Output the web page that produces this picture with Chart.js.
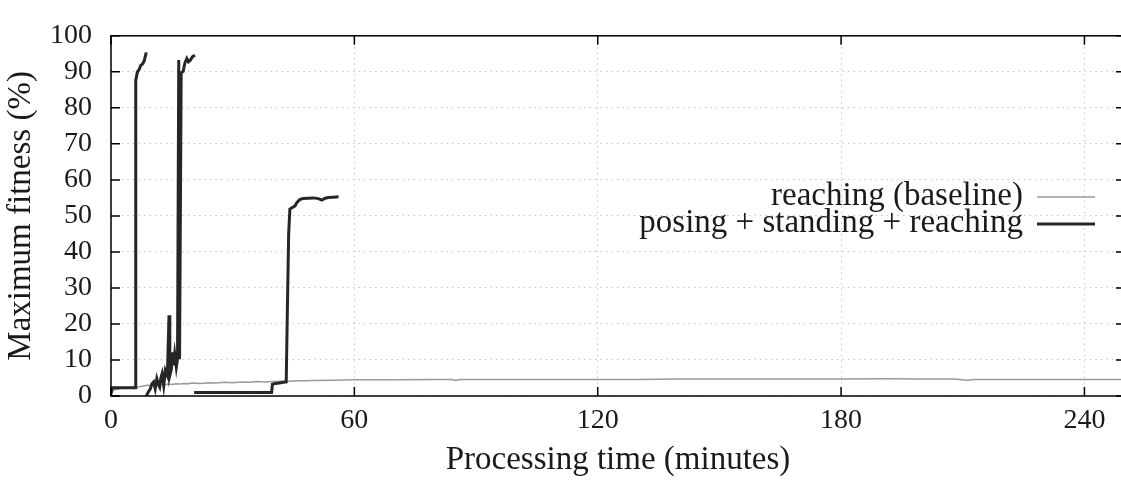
<!DOCTYPE html>
<html>
<head>
<meta charset="utf-8">
<title>Maximum fitness vs processing time</title>
<script src="https://cdn.jsdelivr.net/npm/chart.js@4.4.1/dist/chart.umd.min.js"></script>
<style>
    html, body { margin: 0; padding: 0; background: #fff; overflow: hidden; }
    #wrap { position: relative; width: 1126px; height: 481px; }
</style>
</head>
<body>
<div id="wrap"><canvas id="fitnessChart"></canvas></div>
<script>
// tick values
const xTicks = [0, 60, 120, 180, 240];
const yTicks = [0, 10, 20, 30, 40, 50, 60, 70, 80, 90, 100];

// reaching (baseline) - single long run
const baseMinutes = [0, 0.5, 1, 2, 3, 4, 5, 6, 7, 8, 9, 10, 11, 12, 13, 14, 15, 16, 17, 18, 19, 20,
    22, 24, 26, 28, 30, 32, 34, 36, 38, 40, 42, 44, 46, 48, 50, 55, 60, 70, 80, 84, 85, 86,
    90, 100, 110, 120, 130, 140, 150, 160, 170, 180, 190, 200, 208, 211, 213, 220, 230, 240, 250];
const baseFitness = [0.8, 1.5, 1.8, 2.0, 2.2, 2.3, 2.2, 2.5, 2.6, 2.8, 3.0, 2.9, 3.1, 3.2, 3.0, 3.3, 3.2, 3.4, 3.3, 3.5, 3.4, 3.6,
    3.5, 3.7, 3.6, 3.8, 3.7, 3.9, 3.8, 4.0, 3.9, 4.0, 4.1, 4.1, 4.2, 4.2, 4.3, 4.4, 4.5, 4.5, 4.6, 4.6, 4.3, 4.6,
    4.6, 4.6, 4.6, 4.6, 4.6, 4.7, 4.7, 4.7, 4.7, 4.7, 4.8, 4.7, 4.7, 4.4, 4.6, 4.6, 4.6, 4.6, 4.6];

// posing + standing + reaching - three runs, plotted with breaks between them
const run1Minutes = [0, 0.3, 6.0, 6.1, 6.5, 7.0, 7.3, 7.8, 8.2, 8.7];
const run1Fitness = [0.5, 2.3, 2.3, 87.6, 89.9, 90.8, 91.7, 92.2, 93.1, 95.4];

const run2Minutes = [8.7, 9.2, 9.7, 10.1, 10.5, 10.9, 11.3, 11.7, 12.0, 12.3, 12.6, 13.0, 13.4, 13.9,
    14.3, 14.5, 14.9, 15.1, 15.4, 15.7, 16.1, 16.4, 16.7, 16.9, 17.3, 17.8, 18.2, 18.7, 19.1, 19.6, 20.1, 20.7];
const run2Fitness = [0, 1.1, 2.0, 3.4, 3.9, 2.0, 4.8, 3.2, 2.5, 5.0, 6.2, 2.9, 7.1, 5.7,
    22.4, 5.7, 7.5, 12.1, 8.5, 11.7, 8.0, 10.3, 93.3, 10.2, 89.7, 90.1, 92.4, 93.7, 92.8, 93.3, 94.2, 94.6];

const run3Minutes = [20.5, 39.6, 39.8, 40.5, 41.5, 42.5, 43.2, 43.5, 43.8, 44.1, 44.8, 45.4, 45.8,
    46.6, 47.4, 48.6, 49.9, 51.1, 52.0, 52.8, 53.6, 54.8, 56.1];
const run3Fitness = [1.0, 1.0, 3.3, 3.5, 3.6, 3.8, 3.9, 25.0, 45.0, 51.9, 52.4, 52.8, 53.7,
    54.6, 54.8, 54.9, 55.0, 54.8, 54.4, 54.9, 55.1, 55.2, 55.3];

const SERIF = '"Liberation Serif", "DejaVu Serif", serif';
const TEXT_COLOR = '#1a1a1a';

function toPoints(xs, ys) {
    return xs.map((x, i) => ({ x: x, y: ys[i] }));
}

// join runs with a null point so the line breaks between them
function joinRuns(runs) {
    const out = [];
    runs.forEach((r, i) => {
        if (i > 0) out.push({ x: r[0][0], y: null });
        out.push(...toPoints(r[0], r[1]));
    });
    return out;
}

// gnuplot style: border, inward tics on all four sides, legend inside
const framePlugin = {
    id: 'frame',
    afterDraw(chart) {
        const { ctx, chartArea: a, scales } = chart;
        const x = scales.x, y = scales.y;
        ctx.save();
        ctx.strokeStyle = '#000';
        ctx.lineWidth = 1.5;
        ctx.strokeRect(a.left, a.top, a.right - a.left, a.bottom - a.top);

        ctx.beginPath();
        yTicks.forEach(v => {
            const p = y.getPixelForValue(v);
            ctx.moveTo(a.left, p); ctx.lineTo(a.left + 9, p);
            ctx.moveTo(a.right - 9, p); ctx.lineTo(a.right, p);
        });
        xTicks.forEach(v => {
            const p = x.getPixelForValue(v);
            ctx.moveTo(p, a.bottom); ctx.lineTo(p, a.bottom - 9);
            ctx.moveTo(p, a.top); ctx.lineTo(p, a.top + 9);
        });
        ctx.stroke();

        // legend: text right-aligned, line sample to its right
        const entries = [chart.data.datasets[1], chart.data.datasets[0]];
        ctx.font = '33px ' + SERIF;
        ctx.fillStyle = TEXT_COLOR;
        ctx.textAlign = 'right';
        ctx.textBaseline = 'alphabetic';
        entries.forEach((ds, i) => {
            const base = 205 + i * 27;
            ctx.fillText(ds.label, 1023, base);
            ctx.beginPath();
            ctx.strokeStyle = ds.borderColor;
            ctx.lineWidth = ds.borderWidth;
            ctx.moveTo(1037, base - 8);
            ctx.lineTo(1095, base - 8);
            ctx.stroke();
        });
        ctx.restore();
    }
};

const ctx = document.getElementById('fitnessChart').getContext('2d');

new Chart(ctx, {
    type: 'line',
    data: {
        datasets: [
            {
                label: 'posing + standing + reaching',
                data: joinRuns([[run1Minutes, run1Fitness], [run2Minutes, run2Fitness], [run3Minutes, run3Fitness]]),
                borderColor: '#262626',
                borderWidth: 3,
                pointRadius: 0,
                tension: 0,
                spanGaps: false,
                fill: false,
            },
            {
                label: 'reaching (baseline)',
                data: toPoints(baseMinutes, baseFitness),
                borderColor: '#9a9a9a',
                borderWidth: 1.5,
                pointRadius: 0,
                tension: 0,
                fill: false,
            }
        ]
    },
    options: {
        responsive: true,
        maintainAspectRatio: false,
        animation: false,
        layout: {
            padding: { top: 25, right: 1, left: 0, bottom: 0 }
        },
        plugins: {
            legend: { display: false },
            tooltip: { enabled: false }
        },
        scales: {
            x: {
                type: 'linear',
                min: 0,
                max: 250,
                afterBuildTicks: s => { s.ticks = xTicks.map(v => ({ value: v })); },
                afterFit: s => { s.height = 85; },
                grid: { color: '#c8c8c8', lineWidth: 1, drawTicks: false },
                border: { display: false, dash: [1.5, 4] },
                ticks: {
                    autoSkip: false,
                    maxRotation: 0,
                    padding: 8,
                    color: TEXT_COLOR,
                    font: { family: SERIF, size: 28 }
                },
                title: {
                    display: true,
                    text: 'Processing time (minutes)',
                    color: TEXT_COLOR,
                    font: { family: SERIF, size: 33 },
                    padding: { top: 0, bottom: 1 }
                }
            },
            y: {
                type: 'linear',
                min: 0,
                max: 100,
                afterBuildTicks: s => { s.ticks = yTicks.map(v => ({ value: v })); },
                afterFit: s => { s.width = 111; },
                grid: { color: '#c8c8c8', lineWidth: 1, drawTicks: false },
                border: { display: false, dash: [1.5, 4] },
                ticks: {
                    autoSkip: false,
                    padding: 19,
                    color: TEXT_COLOR,
                    font: { family: SERIF, size: 28 }
                },
                title: {
                    display: true,
                    text: 'Maximum fitness (%)',
                    color: TEXT_COLOR,
                    font: { family: SERIF, size: 33 },
                    padding: { top: 2, bottom: 0 }
                }
            }
        }
    },
    plugins: [framePlugin]
});
</script>
</body>
</html>
